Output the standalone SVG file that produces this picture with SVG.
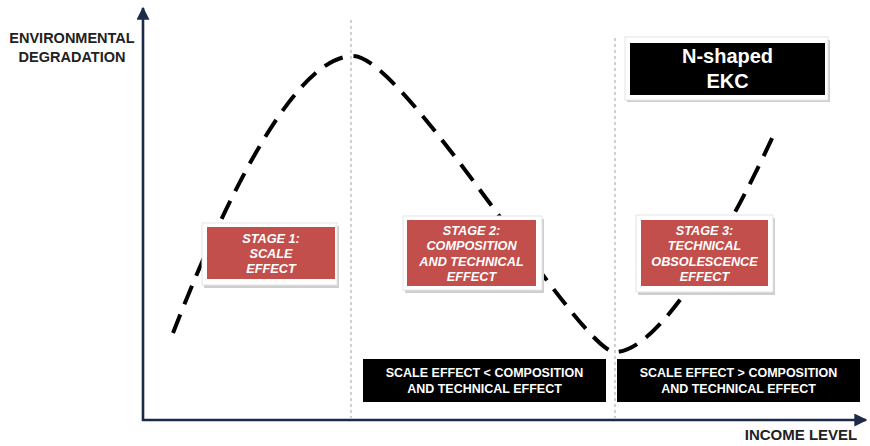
<svg xmlns="http://www.w3.org/2000/svg" width="870" height="446" viewBox="0 0 870 446">
<style>
.axis{stroke:#1c2a4a;stroke-width:2.6;fill:none}
.guide{stroke:#b8b8b8;stroke-width:1.3;stroke-dasharray:3 3;fill:none}
.curve{stroke:#000;stroke-width:4;fill:none;stroke-dasharray:20 11}
.lbl{font-family:"Liberation Sans",Arial,sans-serif;font-weight:bold;fill:#222;text-anchor:middle}
.stage{fill:#c24f4c}
.stxt{font-family:"Liberation Sans",Arial,sans-serif;font-weight:bold;font-style:italic;font-size:12.7px;fill:#fff;text-anchor:middle}
.btxt{font-family:"Liberation Sans",Arial,sans-serif;font-weight:bold;font-size:12.5px;fill:#fff;text-anchor:middle}
.ttxt{font-family:"Liberation Sans",Arial,sans-serif;font-weight:bold;font-size:20px;fill:#fff;text-anchor:middle}
.plate{fill:#fff;stroke:#e4e4e4;stroke-width:1}
.shadow{fill:#cfcfcf}
</style>
<defs>
<marker id="ah" viewBox="0 0 10 10" refX="9" refY="5" markerWidth="5" markerHeight="5" orient="auto" markerUnits="strokeWidth">
<path d="M0,0 L10,5 L0,10 z" fill="#1c2a4a"/>
</marker>
</defs>
<rect width="870" height="446" fill="#fff"/>
<g id="guides">
<line class="guide" x1="351" y1="20" x2="351" y2="418"/>
<line class="guide" x1="615" y1="38" x2="615" y2="418"/>
</g>
<g id="axes">
<line class="axis" x1="143" y1="421" x2="143" y2="8" marker-end="url(#ah)"/>
<line class="axis" x1="142" y1="420" x2="866" y2="420" marker-end="url(#ah)"/>
<text class="lbl" x="72" y="43" font-size="14.5">ENVIRONMENTAL</text>
<text class="lbl" x="72" y="62" font-size="14.5">DEGRADATION</text>
<text class="lbl" x="801" y="440" font-size="15">INCOME LEVEL</text>
</g>
<g id="connectors">
<path class="curve" d="M173,333 C215,225 290,56 353,56 C405,56 580,352 615,352 C660,352 730,230 774,134"/>
</g>
<g id="title">
<rect class="shadow" x="627" y="40" width="203" height="62"/>
<rect class="plate" x="625" y="37" width="203" height="63"/>
<rect x="630" y="43" width="195" height="52" fill="#000"/>
<text class="ttxt" x="727.5" y="63">N-shaped</text>
<text class="ttxt" x="727.5" y="88">EKC</text>
</g>
<g id="stage1">
<rect class="shadow" x="204" y="226" width="135" height="62"/>
<rect class="plate" x="202" y="223" width="135" height="62"/>
<rect class="stage" x="207" y="227" width="128" height="52"/>
<text class="stxt" x="271" y="243">STAGE 1:</text>
<text class="stxt" x="271" y="258">SCALE</text>
<text class="stxt" x="271" y="273">EFFECT</text>
</g>
<g id="stage2">
<rect class="shadow" x="405" y="219" width="139" height="74"/>
<rect class="plate" x="403" y="216" width="139" height="74"/>
<rect class="stage" x="407" y="220" width="129" height="66"/>
<text class="stxt" x="471.5" y="235">STAGE 2:</text>
<text class="stxt" x="471.5" y="250">COMPOSITION</text>
<text class="stxt" x="471.5" y="266">AND TECHNICAL</text>
<text class="stxt" x="471.5" y="281">EFFECT</text>
</g>
<g id="stage3">
<rect class="shadow" x="638" y="218" width="137" height="77"/>
<rect class="plate" x="636" y="215" width="137" height="77"/>
<rect class="stage" x="641" y="220" width="127" height="66"/>
<text class="stxt" x="704.5" y="235">STAGE 3:</text>
<text class="stxt" x="704.5" y="250">TECHNICAL</text>
<text class="stxt" x="704.5" y="266">OBSOLESCENCE</text>
<text class="stxt" x="704.5" y="281">EFFECT</text>
</g>
<g id="less">
<rect x="363" y="359" width="243" height="43" fill="#000"/>
<text class="btxt" x="484.5" y="377">SCALE EFFECT &lt; COMPOSITION</text>
<text class="btxt" x="484.5" y="393">AND TECHNICAL EFFECT</text>
</g>
<g id="greater">
<rect x="617" y="359" width="243" height="43" fill="#000"/>
<text class="btxt" x="738.5" y="377">SCALE EFFECT &gt; COMPOSITION</text>
<text class="btxt" x="738.5" y="393">AND TECHNICAL EFFECT</text>
</g>
</svg>
